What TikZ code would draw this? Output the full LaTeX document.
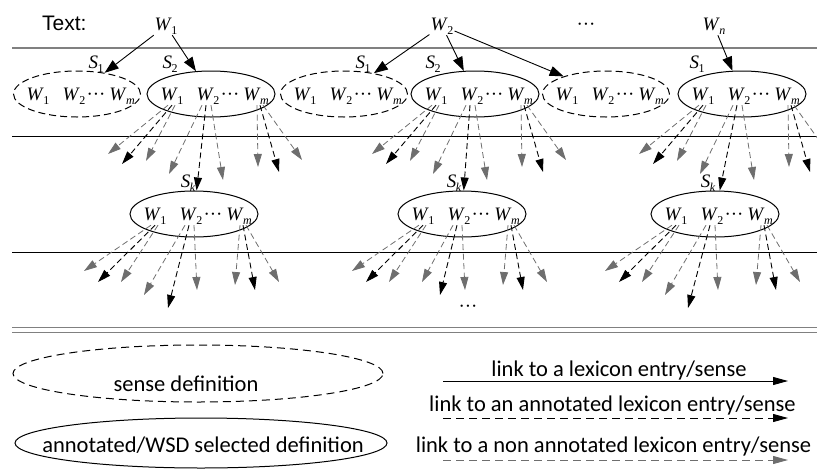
\documentclass[tikz,border=0pt]{standalone}
\usepackage{fontspec}
\setmainfont{Liberation Serif}
\newfontfamily\labelsans{Liberation Sans}
\newfontfamily\legendfont{Carlito}
\usetikzlibrary{shapes.geometric,arrows.meta}
\definecolor{linkgray}{HTML}{6E6E6E}
\definecolor{rulegray}{HTML}{808080}
% word / sense symbols with lowered subscripts
\newcommand\Wi[1]{\textit{W}\kern-0.5pt\raisebox{-4pt}{\fontsize{12}{12}\selectfont #1}}
\newcommand\Si[1]{\textit{S}\kern-0.5pt\raisebox{-4pt}{\fontsize{12}{12}\selectfont #1}}
\newcommand\dotsrow{\textperiodcentered\textperiodcentered\textperiodcentered}

% the three words W1, W2 ... Wm inside a definition ellipse
\newcommand\wordset[3]{%
  \begin{scope}[shift={(#2,#3)}]
    \node[wl, anchor=base] (#1a) at (-39,6) {\Wi{1}};
    \node[wl, anchor=base] (#1b) at (-3,6) {\Wi{2}};
    \node[wl, anchor=base, inner sep=0pt] (#1d) at (19,6) {\dotsrow};
    \node[wl, anchor=base] (#1c) at (45,6) {\Wi{\textit{m}}};
  \end{scope}}

% links leaving the words of a selected definition in the first level
\newcommand\upperfans[4]{%
  \begin{scope}[shift={(#2,#3)}]
    \coordinate (#1t1) at (-103,60);
    \coordinate (#1t2) at (-89,70);
    \coordinate (#1t3) at (-65,67);
    \coordinate (#1t4) at (-42,80);
    \coordinate (#1t6) at (12,86);
    \coordinate (#1t7) at (47,73);
    \coordinate (#1t8) at (68,78);
    \coordinate (#1t9) at (91,66);
  \end{scope}
  \draw[nonlink] ([xshift=-4pt]#1a.south) -- (#1t1);
  \draw[annlink] (#1a.south) -- (#1t2);
  \draw[nonlink] ([xshift=3pt]#1a.south) -- (#1t3);
  \draw[nonlink] ([xshift=-6pt]#1b.south) -- (#1t4);
  \draw[annlink] ([xshift=-2pt]#1b.south) -- (#4);
  \draw[nonlink] ([xshift=3pt]#1b.south) -- (#1t6);
  \draw[nonlink] ([xshift=1pt]#1c.south) -- (#1t7);
  \draw[annlink] ([xshift=4pt]#1c.south) -- (#1t8);
  \draw[nonlink] ([xshift=7pt]#1c.south) -- (#1t9);}

% links leaving the words of a selected definition in the second level
\newcommand\lowerfans[7]{%
  \begin{scope}[shift={(#2,#3)}]
    \coordinate (#1t1) at (-110,57);
    \coordinate (#1t2) at (-96,68);
    \coordinate (#1t3) at (-73,68);
    \coordinate (#1t4) at (#4,#5);
    \coordinate (#1t5) at (#6,#7);
    \coordinate (#1t6) at (3,76);
    \coordinate (#1t7) at (41,71);
    \coordinate (#1t8) at (61,76);
    \coordinate (#1t9) at (85,68);
  \end{scope}
  \draw[nonlink] ([xshift=-4pt]#1a.south) -- (#1t1);
  \draw[annlink] (#1a.south) -- (#1t2);
  \draw[nonlink] ([xshift=3pt]#1a.south) -- (#1t3);
  \draw[nonlink] ([xshift=-6pt]#1b.south) -- (#1t4);
  \draw[annlink] ([xshift=-2pt]#1b.south) -- (#1t5);
  \draw[nonlink] ([xshift=3pt]#1b.south) -- (#1t6);
  \draw[nonlink] ([xshift=1pt]#1c.south) -- (#1t7);
  \draw[annlink] ([xshift=4pt]#1c.south) -- (#1t8);
  \draw[nonlink] ([xshift=7pt]#1c.south) -- (#1t9);}

\begin{document}
\begin{tikzpicture}[
  x=1pt, y=-1pt,
  wl/.style={font=\fontsize{19}{19}\selectfont, inner sep=1pt},
  sensedef/.style={ellipse, draw, line width=1pt, dash pattern=on 7pt off 4pt,
    minimum width=127pt, minimum height=46pt, inner sep=0pt},
  selected/.style={ellipse, draw, line width=1pt,
    minimum width=128pt, minimum height=46pt, inner sep=0pt},
  headtip/.style={-{Triangle[length=13pt,width=8pt]}},
  wordlink/.style={-{Triangle[length=14pt,width=10pt]}, line width=0.9pt},
  annlink/.style={headtip, line width=0.9pt, dash pattern=on 6pt off 3.5pt},
  nonlink/.style={headtip, line width=0.8pt, draw=linkgray, dash pattern=on 6pt off 3.5pt},
  legendtext/.style={font=\legendfont\fontsize{22.5}{22.5}\selectfont, inner sep=0pt, anchor=base},
]
\useasboundingbox (0,0) rectangle (817,469);

% level separators
\draw[rulegray, line width=1.6pt] (12,48) -- (817,48);
\draw[line width=0.9pt] (12,136) -- (817,136);
\draw[line width=0.9pt] (12,252) -- (817,252);
\draw[rulegray, line width=1.3pt] (12,327.5) -- (817,327.5);
\draw[rulegray, line width=1.3pt] (12,332.5) -- (817,332.5);

% the text
\node[font=\labelsans\fontsize{21}{21}\selectfont, anchor=base west, inner sep=0pt] (textlabel) at (42,30) {Text:};
\node[wl, anchor=base] (tw1) at (166,30) {\Wi{1}};
\node[wl, anchor=base] (tw2) at (442,30) {\Wi{2}};
\node[wl, anchor=base] (tdots) at (586,30) {\dotsrow};
\node[wl, anchor=base] (twn) at (714,30) {\Wi{\textit{n}}};

% first level of definitions
\node[sensedef] (d1) at (77,94) {};
\node[selected] (s1) at (211,94) {};
\node[sensedef] (d2) at (344,94) {};
\node[selected] (s2) at (475,94) {};
\node[sensedef] (d3) at (606,94) {};
\node[selected] (s3) at (742,94) {};
\wordset{d1}{77}{94}
\wordset{s1}{211}{94}
\wordset{d2}{344}{94}
\wordset{s2}{475}{94}
\wordset{d3}{606}{94}
\wordset{s3}{742}{94}
\node[wl, anchor=base] (ls1) at (96,68) {\Si{1}};
\node[wl, anchor=base] (ls2) at (170,68) {\Si{2}};
\node[wl, anchor=base] (ls3) at (363,68) {\Si{1}};
\node[wl, anchor=base] (ls4) at (433,68) {\Si{2}};
\node[wl, anchor=base] (ls6) at (697,68) {\Si{1}};

% second level of definitions
\node[selected] (k1) at (194,214) {};
\node[selected] (k2) at (462,214) {};
\node[selected] (k3) at (715,214) {};
\wordset{k1}{194}{214}
\wordset{k2}{462}{214}
\wordset{k3}{715}{214}
\node[wl, anchor=base] (lk1) at (188,187) {\Si{\textit{k}}};
\node[wl, anchor=base] (lk2) at (454,187) {\Si{\textit{k}}};
\node[wl, anchor=base] (lk3) at (708,187) {\Si{\textit{k}}};

% links from the words of the text
\draw[wordlink] (tw1) -- (d1);
\draw[wordlink] (tw1) -- (s1);
\draw[wordlink] (tw2) -- (d2);
\draw[wordlink] (tw2) -- (s2);
\draw[wordlink] (tw2) -- (d3);
\draw[wordlink] (twn) -- (s3);

% links from the words of the definitions
\upperfans{s1}{211}{94}{k1}
\upperfans{s2}{475}{94}{k2}
\upperfans{s3}{742}{94}{k3}
\lowerfans{k1}{194}{214}{-50}{81}{-26}{94}
\lowerfans{k2}{462}{214}{-40}{68}{-22}{81}
\lowerfans{k3}{715}{214}{-50}{81}{-27}{94}
\node[wl, anchor=base] (bdots) at (468,312) {\dotsrow};

% legend
\node[sensedef, dash pattern=on 8pt off 5pt, minimum width=370pt, minimum height=57pt] (lgd) at (198,373.5) {};
\node[legendtext] (lgdt) at (186,391) {sense definition};
\node[selected, minimum width=372pt, minimum height=50pt] (lgs) at (201,443) {};
\node[legendtext] (lgst) at (203,452) {annotated/WSD selected definition};

\coordinate (la1) at (443,381);
\coordinate (lb1) at (788,381);
\coordinate (la2) at (443,418);
\coordinate (lb2) at (788,418);
\coordinate (la3) at (443,460);
\coordinate (lb3) at (788,460);
\draw[-{Triangle[length=15pt,width=8pt]}, line width=0.9pt] (la1) -- (lb1);
\draw[-{Triangle[length=15pt,width=8pt]}, line width=0.9pt, dash pattern=on 8pt off 5pt] (la2) -- (lb2);
\draw[-{Triangle[length=15pt,width=8pt]}, line width=0.9pt, draw=linkgray, dash pattern=on 8pt off 5pt] (la3) -- (lb3);
\node[legendtext] (lt1) at (619,376) {link to a lexicon entry/sense};
\node[legendtext] (lt2) at (612.5,411) {link to an annotated lexicon entry/sense};
\node[legendtext] (lt3) at (613.5,452) {link to a non annotated lexicon entry/sense};
\end{tikzpicture}
\end{document}
